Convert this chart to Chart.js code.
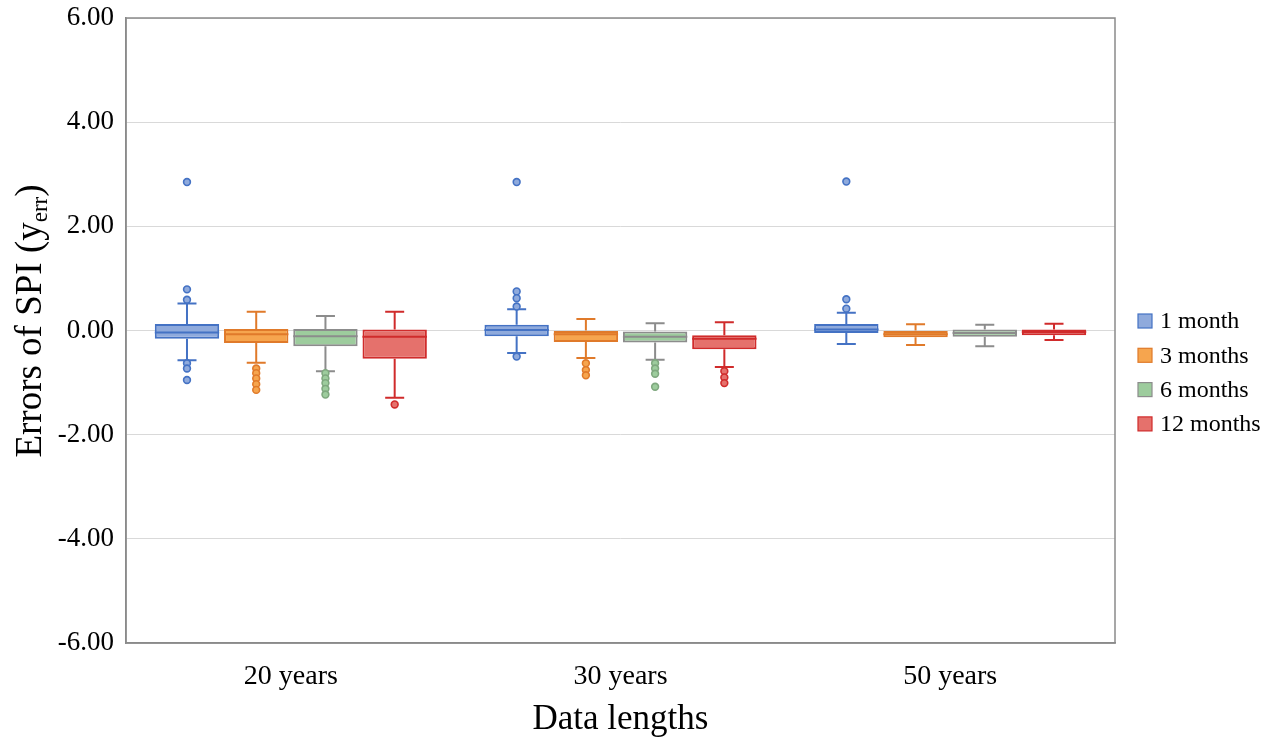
<!DOCTYPE html>
<html>
<head>
<meta charset="utf-8">
<script src="https://cdn.jsdelivr.net/npm/chart.js@4/dist/chart.umd.min.js"></script>
<style>
  html, body { margin: 0; padding: 0; background: #fff; }
</style>
</head>
<body>
<canvas id="c" width="1274" height="742"></canvas>
<script>
const categories = ["20 years", "30 years", "50 years"];
const seriesNames = ["1 month", "3 months", "6 months", "12 months"];

// one row per series, one value per category
const q1 = [
  [-0.16, -0.11, -0.05],
  [-0.24, -0.22, -0.13],
  [-0.30, -0.23, -0.12],
  [-0.54, -0.36, -0.09],
];
const q3 = [
  [0.125, 0.11, 0.125],
  [0.03, 0.0, 0.0],
  [0.03, -0.02, 0.02],
  [0.02, -0.09, 0.02],
];
const medians = [
  [-0.04, 0.01, 0.02],
  [-0.07, -0.07, -0.07],
  [-0.11, -0.12, -0.05],
  [-0.12, -0.16, -0.03],
];
const whiskerLow = [
  [-0.57, -0.43, -0.26],
  [-0.62, -0.53, -0.28],
  [-0.78, -0.56, -0.30],
  [-1.29, -0.70, -0.18],
];
const whiskerHigh = [
  [0.52, 0.41, 0.34],
  [0.36, 0.22, 0.12],
  [0.28, 0.14, 0.11],
  [0.36, 0.16, 0.13],
];
const outliers = [
  [[2.85, 0.79, 0.59, -0.63, -0.73, -0.95], [2.85, 0.75, 0.62, 0.46, -0.50], [2.86, 0.60, 0.42]],
  [[-0.73, -0.82, -0.92, -1.03, -1.14], [-0.63, -0.76, -0.86], []],
  [[-0.82, -0.92, -1.01, -1.12, -1.23], [-0.63, -0.73, -0.83, -1.08], []],
  [[-1.42], [-0.78, -0.90, -1.01], []],
];
const yTicks = [-6, -4, -2, 0, 2, 4, 6];

const fills = ["#8FAADC", "#F6A54E", "#9DCC9D", "#E5716C"];
const lines = ["#4472C4", "#E07A2A", "#8C8C8C", "#D02B2B"];
const dotLines = ["#4472C4", "#E07A2A", "#7FA87F", "#D02B2B"];

const serif = "'Liberation Serif', 'Times New Roman', serif";

const boxExtras = {
  id: "boxExtras",
  beforeDatasetsDraw(chart) {
    const { ctx, chartArea: a } = chart;
    ctx.save();
    ctx.strokeStyle = "#8A8A8A";
    ctx.lineWidth = 1.5;
    ctx.strokeRect(a.left, a.top, a.right - a.left, a.bottom - a.top);
    ctx.restore();
  },
  afterDatasetsDraw(chart) {
    const ctx = chart.ctx;
    const y = chart.scales.y;
    seriesNames.forEach((name, i) => {
      chart.getDatasetMeta(i).data.forEach((bar, j) => {
        const x = bar.x;
        const half = bar.width / 2;
        const cap = 9.5;
        const yq1 = y.getPixelForValue(q1[i][j]);
        const yq3 = y.getPixelForValue(q3[i][j]);
        const ylo = y.getPixelForValue(whiskerLow[i][j]);
        const yhi = y.getPixelForValue(whiskerHigh[i][j]);
        const ym = y.getPixelForValue(medians[i][j]);
        ctx.save();
        ctx.strokeStyle = lines[i];
        ctx.lineWidth = 2;
        ctx.beginPath();
        ctx.moveTo(x - half, ym); ctx.lineTo(x + half, ym);
        ctx.moveTo(x, Math.min(yq1, yq3)); ctx.lineTo(x, yhi);
        ctx.moveTo(x - cap, yhi); ctx.lineTo(x + cap, yhi);
        ctx.moveTo(x, Math.max(yq1, yq3)); ctx.lineTo(x, ylo);
        ctx.moveTo(x - cap, ylo); ctx.lineTo(x + cap, ylo);
        ctx.stroke();
        ctx.fillStyle = fills[i];
        ctx.strokeStyle = dotLines[i];
        ctx.lineWidth = 1.6;
        outliers[i][j].forEach(v => {
          ctx.beginPath();
          ctx.arc(x, y.getPixelForValue(v), 3.4, 0, Math.PI * 2);
          ctx.fill();
          ctx.stroke();
        });
        ctx.restore();
      });
    });
  },
  afterDraw(chart) {
    const ctx = chart.ctx;
    // y axis title with subscript
    ctx.save();
    ctx.translate(41, 321);
    ctx.rotate(-Math.PI / 2);
    ctx.fillStyle = "#000";
    ctx.textBaseline = "alphabetic";
    const big = "37px " + serif, small = "23px " + serif;
    const p1 = "Errors of SPI (y", p2 = "err", p3 = ")";
    ctx.font = big; const w1 = ctx.measureText(p1).width; const w3 = ctx.measureText(p3).width;
    ctx.font = small; const w2 = ctx.measureText(p2).width;
    let x0 = -(w1 + w2 + w3) / 2;
    ctx.textAlign = "left";
    ctx.font = big; ctx.fillText(p1, x0, 0); x0 += w1;
    ctx.font = small; ctx.fillText(p2, x0, 6); x0 += w2;
    ctx.font = big; ctx.fillText(p3, x0, 0);
    ctx.restore();

    // legend
    ctx.save();
    ctx.font = "24px " + serif;
    ctx.textBaseline = "middle";
    ctx.textAlign = "left";
    seriesNames.forEach((name, i) => {
      const cy = 321 + i * 34.3;
      ctx.fillStyle = fills[i];
      ctx.fillRect(1138, cy - 7, 14, 14);
      ctx.strokeStyle = lines[i];
      ctx.lineWidth = 1.2;
      ctx.strokeRect(1138, cy - 7, 14, 14);
      ctx.fillStyle = "#000";
      ctx.fillText(name, 1160, cy + 1);
    });
    ctx.restore();
  },
};

new Chart(document.getElementById("c").getContext("2d"), {
  type: "bar",
  data: {
    labels: categories,
    datasets: seriesNames.map((name, i) => ({
      label: name,
      data: categories.map((c, j) => [q1[i][j], q3[i][j]]),
      backgroundColor: fills[i],
      borderColor: lines[i],
      borderWidth: 2,
      borderSkipped: false,
      categoryPercentage: 0.84,
      barPercentage: 0.93,
    })),
  },
  options: {
    responsive: false,
    animation: false,
    devicePixelRatio: 1,
    layout: { padding: { left: 0, right: 159, top: 18, bottom: 0 } },
    plugins: {
      legend: { display: false },
      tooltip: { enabled: false },
    },
    scales: {
      x: {
        afterFit(s) { s.height = 99; },
        grid: { display: false },
        border: { display: true, color: "#8A8A8A", width: 1.5 },
        ticks: {
          color: "#000",
          padding: 9,
          font: { family: serif, size: 28 },
        },
        title: {
          display: true,
          text: "Data lengths",
          color: "#000",
          font: { family: serif, size: 35 },
          padding: { top: 0, bottom: 1 },
        },
      },
      y: {
        min: -6,
        max: 6,
        afterFit(s) { s.width = 126; s.paddingTop = 0; s.paddingBottom = 0; },
        afterBuildTicks(s) { s.ticks = yTicks.map(v => ({ value: v })); },
        grid: { color: "#D9D9D9", lineWidth: 1, drawTicks: false },
        border: { display: true, color: "#8A8A8A", width: 1.5 },
        ticks: {
          color: "#000",
          padding: 12,
          font: { family: serif, size: 27 },
          callback: v => v.toFixed(2),
        },
      },
    },
  },
  plugins: [boxExtras],
});
</script>
</body>
</html>
